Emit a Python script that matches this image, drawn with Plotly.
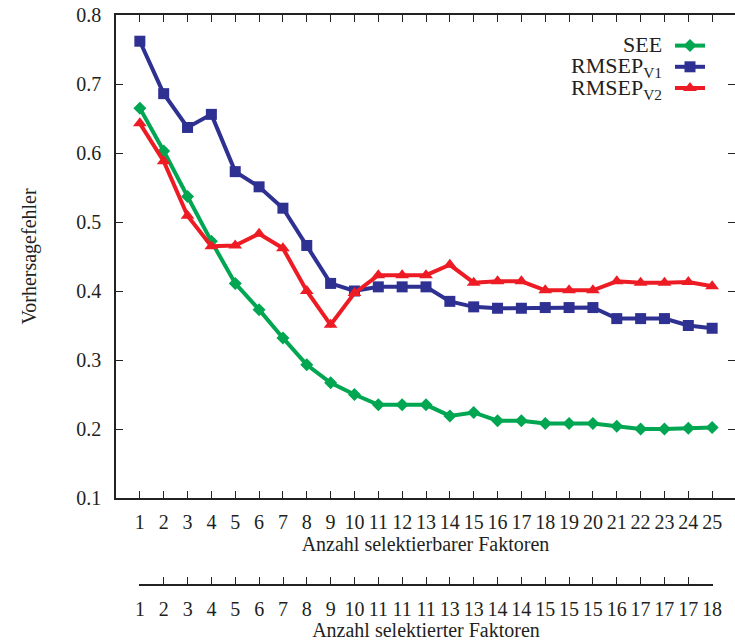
import plotly.graph_objects as go

# ---- data ----
factors = list(range(1, 26))
selected = [1, 2, 3, 4, 5, 6, 7, 8, 9, 10, 11, 11, 11, 13, 13, 14, 14, 15, 15, 15, 16, 17, 17, 17, 18]
see = [0.665, 0.603, 0.537, 0.472, 0.411, 0.373, 0.332, 0.293, 0.267, 0.250, 0.235, 0.235, 0.235,
       0.219, 0.224, 0.212, 0.212, 0.208, 0.208, 0.208, 0.204, 0.200, 0.200, 0.201, 0.202]
rmsep_v1 = [0.762, 0.686, 0.637, 0.656, 0.573, 0.551, 0.520, 0.466, 0.411, 0.400, 0.406, 0.406, 0.406,
            0.385, 0.377, 0.375, 0.375, 0.376, 0.376, 0.376, 0.360, 0.360, 0.360, 0.350, 0.346]
rmsep_v2 = [0.643, 0.588, 0.509, 0.465, 0.466, 0.483, 0.462, 0.400, 0.351, 0.397, 0.423, 0.423, 0.423,
            0.438, 0.412, 0.414, 0.414, 0.401, 0.401, 0.401, 0.414, 0.412, 0.412, 0.413, 0.407]
series_names = ["SEE", "RMSEP<sub>V1</sub>", "RMSEP<sub>V2</sub>"]
y_ticks = [0.1, 0.2, 0.3, 0.4, 0.5, 0.6, 0.7, 0.8]

# ---- style ----
FONT = "Liberation Serif, Times New Roman, serif"
TXT = "#231f20"
AX = "#222222"
GREEN, BLUE, RED = "#00a651", "#2e3192", "#ed1c24"

W, H = 735, 641
ML, MR, MT, MB = 116, 0, 15, 0
PW, PH = W - ML - MR, H - MT - MB
PLOT_BOTTOM = 498
AXIS2_Y = 584
STEP = 620 / 26  # px per category on the main axis
PAD = 0.03       # small range padding so end ticks of the second axis are drawn


def px_x(x):
    return (x - ML) / PW


def px_y(y):
    return (H - MB - y) / PH


fig = go.Figure()
fig.add_trace(go.Scatter(x=factors, y=see, name=series_names[0], mode="lines+markers",
                         line=dict(color=GREEN, width=4),
                         marker=dict(symbol="diamond", size=10, color=GREEN)))
fig.add_trace(go.Scatter(x=factors, y=rmsep_v1, name=series_names[1], mode="lines+markers",
                         line=dict(color=BLUE, width=4),
                         marker=dict(symbol="square", size=11, color=BLUE)))
fig.add_trace(go.Scatter(x=factors, y=rmsep_v2, name=series_names[2], mode="lines+markers",
                         line=dict(color=RED, width=4),
                         marker=dict(symbol="triangle-up", size=12, color=RED)))
# helper traces so that the secondary axes are drawn
fig.add_trace(go.Scatter(x=factors, y=[None] * len(factors), xaxis="x2", yaxis="y3",
                         showlegend=False, hoverinfo="skip", mode="markers"))
fig.add_trace(go.Scatter(x=factors, y=[None] * len(factors), xaxis="x", yaxis="y2",
                         showlegend=False, hoverinfo="skip", mode="markers"))

x_range = [0, 26 * PW / 620]
y_dom = [px_y(PLOT_BOTTOM), 1]

tick_common = dict(ticks="inside", ticklen=7, tickcolor=AX, tickwidth=1.4)

fig.update_layout(
    width=W, height=H,
    margin=dict(l=ML, r=MR, t=MT, b=MB, autoexpand=False),
    paper_bgcolor="white", plot_bgcolor="rgba(0,0,0,0)",
    font=dict(family=FONT, size=20, color=TXT),
    showlegend=True,
    legend=dict(x=px_x(670), y=px_y(30), xanchor="left", yanchor="top",
                bgcolor="rgba(0,0,0,0)", font=dict(size=14, color="rgba(0,0,0,0)"),
                itemwidth=30, tracegroupgap=0),
    xaxis=dict(range=x_range, tickmode="array", tickvals=factors, ticktext=[str(f) for f in factors],
               **tick_common,
               showline=True, linecolor=AX, linewidth=1.5, mirror="ticks",
               showgrid=False, zeroline=False, automargin=False,
               ticklabelstandoff=5,
               title=dict(text="Anzahl selektierbarer Faktoren", standoff=0,
                          font=dict(size=20, color=TXT)),
               tickfont=dict(size=20, color=TXT)),
    yaxis=dict(domain=y_dom, range=[0.1, 0.8], tickmode="array", tickvals=y_ticks,
               ticktext=[f"{v:.1f}" for v in y_ticks],
               **tick_common,
               showline=True, linecolor=AX, linewidth=1.5, mirror=False,
               showgrid=False, zeroline=False, automargin=False,
               ticklabelstandoff=9,
               title=dict(text="Vorhersagefehler", standoff=34, font=dict(size=20, color=TXT)),
               tickfont=dict(size=20, color=TXT)),
    yaxis2=dict(overlaying="y", side="right", anchor="x", range=[0.1, 0.8], tickmode="array",
                tickvals=y_ticks, **tick_common,
                showticklabels=False, showline=False, showgrid=False, zeroline=False),
    yaxis3=dict(domain=[px_y(AXIS2_Y), px_y(AXIS2_Y - 10)], range=[0, 1], anchor="x2",
                visible=False, showgrid=False, zeroline=False),
    xaxis2=dict(domain=[px_x(140 - PAD * STEP), px_x(712 + PAD * STEP)],
                range=[1 - PAD, 25 + PAD], anchor="y3", side="bottom",
                tickmode="array", tickvals=factors, ticktext=[str(s) for s in selected],
                **tick_common,
                showline=True, linecolor=AX, linewidth=1.5, showgrid=False, zeroline=False,
                automargin=False, ticklabelstandoff=6,
                title=dict(text="Anzahl selektierter Faktoren", standoff=2,
                           font=dict(size=20, color=TXT)),
                tickfont=dict(size=20, color=TXT)),
)

row_y = [45, 67, 89]
for name, ry in zip(series_names, row_y):
    fig.add_annotation(text=name, xref="paper", yref="paper", x=px_x(664), y=px_y(ry),
                       xanchor="right", yanchor="middle", showarrow=False,
                       font=dict(family=FONT, size=22, color=TXT))

fig.write_html("out.html")
